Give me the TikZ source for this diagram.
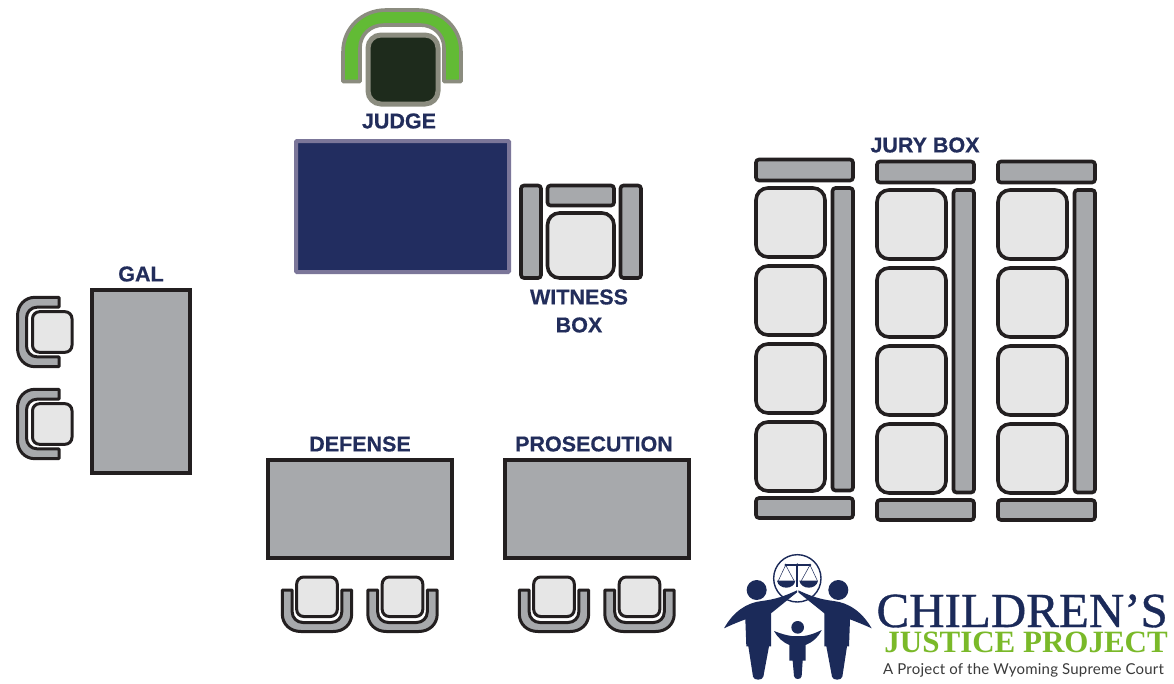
\documentclass[tikz,border=0pt]{standalone}
\usepackage{fontspec}
\setmainfont{Liberation Sans}
\newfontfamily\lblf[UprightFont=* Bold,RawFeature={embolden=0.5}]{Liberation Sans}
\newfontfamily\serifl[RawFeature={embolden=0.7}]{Liberation Serif}
\newfontfamily\serifb[UprightFont=* Bold]{Liberation Serif}
\newfontfamily\tagf[LetterSpace=1.4]{Lato}
\definecolor{ink}{HTML}{231F20}
\definecolor{greyb}{HTML}{A7A9AC}
\definecolor{lightb}{HTML}{E6E6E6}
\definecolor{navy}{HTML}{222D5B}
\definecolor{logon}{HTML}{1B2A59}
\definecolor{deskn}{HTML}{222D60}
\definecolor{deske}{HTML}{7B7699}
\definecolor{archg}{HTML}{62BB35}
\definecolor{archs}{HTML}{8B8C7F}
\definecolor{benchd}{HTML}{1E2B1C}
\definecolor{logog}{HTML}{7AB929}
\definecolor{tagc}{HTML}{3A3A3A}
\tikzset{
 barpart/.style={draw=ink,fill=greyb,line width=3.6pt,rounded corners=3pt},
 seatpart/.style={draw=ink,fill=lightb,line width=3.6pt,rounded corners=12pt},
 smallseat/.style={draw=ink,fill=lightb,line width=3pt,rounded corners=7pt},
 armpart/.style={draw=ink,fill=greyb,line width=3pt,line join=round},
 tablepart/.style={draw=ink,fill=greyb,line width=4pt},
 lbl/.style={text=navy,font=\lblf\fontsize{21.5}{24}\selectfont,inner sep=0pt,align=center},
 logofill/.style={fill=logon,draw=none}
}
\newcommand{\chairat}[3]{%
 \begin{scope}[shift={(#1,#2)},rotate=#3]
  \path[armpart] (-34.7,-43) -- (-34.7,-19) .. controls (-34.7,-9) and (-27,-1.5) .. (-16,-1.5) -- (16,-1.5)
    .. controls (27,-1.5) and (34.7,-9) .. (34.7,-19) -- (34.7,-43) -- (24.8,-43) -- (24.8,-21)
    .. controls (24.8,-15) and (20,-10.5) .. (14,-10.5) -- (-14,-10.5)
    .. controls (-20,-10.5) and (-24.8,-15) .. (-24.8,-21) -- (-24.8,-43) -- cycle;
  \path[smallseat] (-20.3,-16.5) rectangle (20.3,-56);
 \end{scope}}
\newcommand{\jurycol}[2]{%
 \begin{scope}[shift={(#1,#2)}]
  \path[barpart] (756,159.5) rectangle (853,180.5);
  \foreach \yy in {188,266,344,422}
   \path[seatpart] (756,\yy) rectangle (825,\yy+69);
  \path[barpart] (832.5,188) rectangle (853,490.5);
  \path[barpart] (756,498) rectangle (853,518);
 \end{scope}}
\begin{document}
\begin{tikzpicture}[x=1pt,y=-1pt]
\useasboundingbox[fill=white] (0,0) rectangle (1174,683);
% judge
\path[draw=archs,fill=archg,line width=3.6pt,line join=round]
 (343,81.5) -- (343,52) .. controls (343,28) and (362,10) .. (386,10) -- (418,10)
 .. controls (442,10) and (461,28) .. (461,52) -- (461,81.5) -- (444,81.5) -- (444,48)
 .. controls (444,35) and (434,25) .. (420,25) -- (384,25)
 .. controls (370,25) and (360,35) .. (360,48) -- (360,81.5) -- cycle;
\path[draw=archs,fill=benchd,line width=5pt,rounded corners=13pt] (368,35) rectangle (438,104);
\node[lbl] (judge) at (399,121) {JUDGE};
\path[draw=deske,fill=deskn,line width=4pt,rounded corners=1pt] (296,141) rectangle (509,272);
% witness
\path[barpart] (521,185.5) rectangle (541,278);
\path[barpart] (547.5,185.5) rectangle (614,205.5);
\path[seatpart] (547.5,213) rectangle (614,278);
\path[barpart] (620.5,185.5) rectangle (641,278);
\node[lbl] (witness) at (579,311) {WITNESS\\[4pt]BOX};
% GAL
\node[lbl] (gal) at (141,274) {GAL};
\path[tablepart] (91.5,289.5) rectangle (190,472.5);
\chairat{16}{332}{-90}
\chairat{16}{424}{-90}
% defense
\node[lbl] (defense) at (360,444) {DEFENSE};
\path[tablepart] (267.5,459.5) rectangle (451.5,557.5);
\chairat{317}{633}{0}
\chairat{402.5}{633}{0}
% prosecution
\node[lbl] (prosecution) at (594,444) {PROSECUTION};
\path[tablepart] (504.5,459.5) rectangle (688.5,557.5);
\chairat{554}{633}{0}
\chairat{639.5}{633}{0}
% jury
\node[lbl] (jury) at (925,145) {JURY BOX};
\jurycol{0}{0}
\jurycol{121}{2}
\jurycol{242}{2}
% logo
\begin{scope}[shift={(720,550)},x=0.33333pt,y=-0.33333pt]
 \draw[logon,line width=1.4pt] (232,85) circle[radius=71];
 \fill[logofill] (110,120) circle[radius=30] (355,120) circle[radius=30] (233,232) circle[radius=19];
 \path[logofill] (231,121) .. controls (190,140) and (165,148) .. (125,153) .. controls (80,158) and (40,185) .. (12,235)
   .. controls (35,224) and (55,216) .. (76,208) -- (79,289) -- (85,289) -- (99,380)
   .. controls (101,392) and (128,392) .. (130,380) -- (147,289) -- (153,289) -- (153,190) -- (231,127) -- cycle;
 \path[logofill] (235,121) .. controls (276,140) and (301,148) .. (341,153) .. controls (386,158) and (426,185) .. (455,235)
   .. controls (431,224) and (411,216) .. (390,208) -- (387,289) -- (381,289) -- (367,380)
   .. controls (365,392) and (338,392) .. (336,380) -- (319,289) -- (313,289) -- (313,190) -- (235,127) -- cycle;
 \path[logofill] (162,243) .. controls (185,252) and (200,256) .. (215,258) -- (251,258) .. controls (268,256) and (285,250) .. (305,240)
   .. controls (295,262) and (275,278) .. (257,285) -- (257,332) -- (248,332) -- (245,378)
   .. controls (244,390) and (223,390) .. (222,378) -- (218,332) -- (208,332) -- (208,285)
   .. controls (190,278) and (172,262) .. (162,243) -- cycle;
 % scales
 \draw[logon,line width=1.1pt] (197,45) -- (270,45);
 \fill[logofill] (197,45) circle[radius=4] (270,45) circle[radius=4] (232,45) circle[radius=5];
 \draw[logon,line width=1.8pt] (232,45) -- (232,112);
 \draw[logon,line width=0.5pt] (197,45) -- (175,92) (197,45) -- (222,92) (270,45) -- (244,92) (270,45) -- (292,92);
 \path[logofill] (171,92) -- (226,92) .. controls (222,120) and (176,120) .. (171,92) -- cycle;
 \path[logofill] (238,92) -- (294,92) .. controls (290,120) and (243,120) .. (238,92) -- cycle;
\end{scope}
\node[text=logon,font=\serifl\fontsize{49}{50}\selectfont,inner sep=0pt,anchor=base east] (cjp1) at (1168,627) {CHILDREN’S};
\node[text=logog,font=\serifb\fontsize{31}{32}\selectfont,inner sep=0pt,anchor=base east] (cjp2) at (1168,652) {JUSTICE PROJECT};
\node[text=tagc,font=\tagf\fontsize{15}{16}\selectfont,inner sep=0pt,anchor=base west] (cjp3) at (883,674) {A Project of the Wyoming Supreme Court};
\end{tikzpicture}
\end{document}
